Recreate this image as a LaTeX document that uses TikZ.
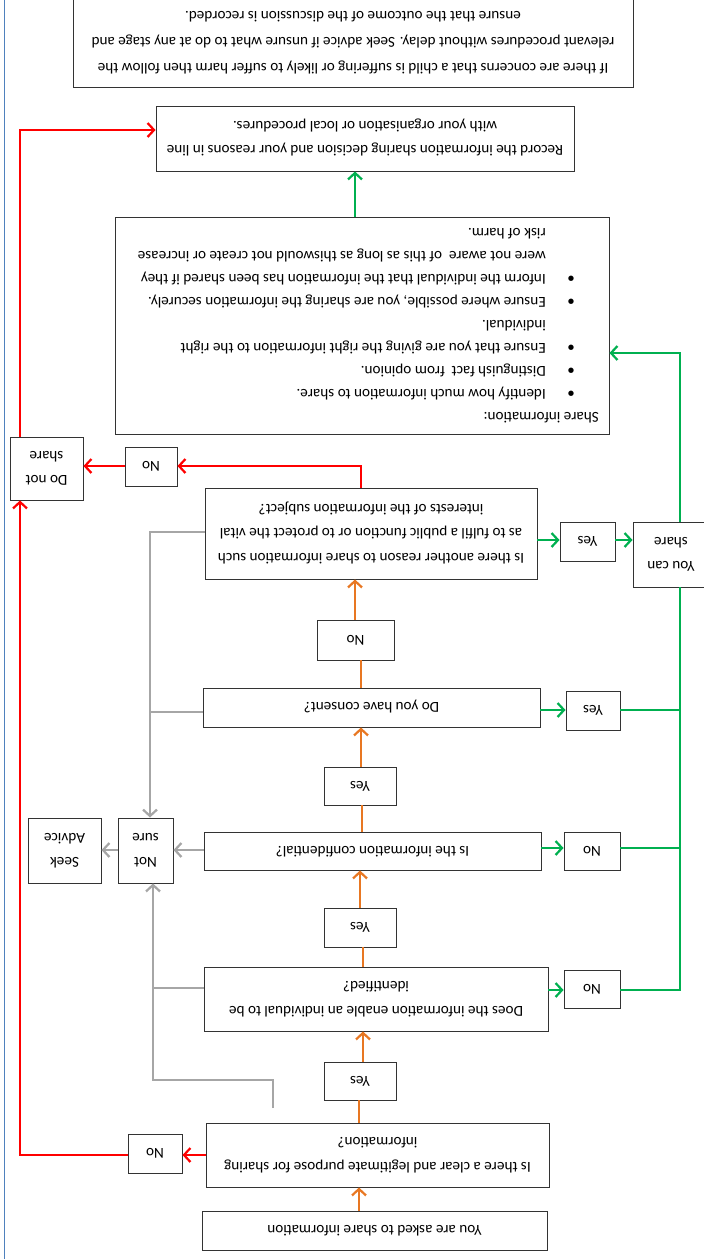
\documentclass[tikz,border=0pt]{standalone}
\usepackage{fontspec}
\setmainfont{Carlito}
\usepackage{graphicx}
\usetikzlibrary{arrows.meta}
\definecolor{cOr}{HTML}{E87722}
\definecolor{cGr}{HTML}{00B050}
\definecolor{cRd}{HTML}{FF0000}
\definecolor{cGy}{HTML}{A6A6A6}
\definecolor{cBl}{HTML}{4F81BD}
\newcommand{\flipc}[1]{\rotatebox[origin=c]{180}{\begin{tabular}{@{}c@{}}#1\end{tabular}}}
\begin{document}
\begin{tikzpicture}[x=1pt,y=-1pt,
  box/.style={draw=black!80, line width=0.9pt, fill=white, inner sep=0pt,
    font=\fontsize{15.2}{24.5}\selectfont},
  conn/.style={line width=2.2pt, line join=miter},
  tip/.style={arrows={-{Straight Barb[length=6.5pt,width=14pt]}}},
  oc/.style={conn, draw=cOr},
  gc/.style={conn, draw=cGr},
  rc/.style={conn, draw=cRd},
  kc/.style={conn, draw=cGy}]
\useasboundingbox (0,0) rectangle (704,1259);
\fill[white] (0,0) rectangle (704,1259);
\draw[cBl, line width=1.2pt] (4.5,-2) -- (4.5,1261);

% boxes
\node[box, minimum width=560pt, minimum height=89pt, font=\fontsize{15.2}{26}\selectfont] (topnote) at (353,42.5)
  {\flipc{If there are concerns that a child is suffering or likely to suffer harm then follow the\\
   relevant procedures without delay. Seek advice if unsure what to do at any stage and\\
   ensure that the outcome of the discussion is recorded.}};
\node[box, minimum width=418pt, minimum height=65pt] (record) at (365,138.5)
  {\flipc{Record the information sharing decision and your reasons in line\\
   with your organisation or local procedures.}};
\node[box, minimum width=494pt, minimum height=217pt] (share) at (362,325.5) {};
\node[anchor=south east, inner sep=0pt, font=\fontsize{15.2}{23}\selectfont] (sharetext) at (599,428.6)
  {\rotatebox[origin=c]{180}{\begin{tabular}{@{}l@{}}
   Share information:\\
   \hspace*{24pt}\makebox[29pt][l]{•}Identify how much information to share.\\
   \hspace*{24pt}\makebox[29pt][l]{•}Distinguish fact \ from opinion.\\
   \hspace*{24pt}\makebox[29pt][l]{•}Ensure that you are giving the right information to the right\\
   \hspace*{53pt}individual.\\
   \hspace*{24pt}\makebox[29pt][l]{•}Ensure where possible, you are sharing the information securely.\\
   \hspace*{24pt}\makebox[29pt][l]{•}Inform the individual that the information has been shared if they\\
   \hspace*{53pt}were not aware \ of this as long as thiswould not create or increase\\
   \hspace*{53pt}risk of harm.
   \end{tabular}}};
\node[box, minimum width=332pt, minimum height=91pt] (another) at (371,533.5)
  {\flipc{Is there another reason to share information such\\
   as to fulfil a public function or to protect the vital\\
   interests of the information subject?}};
\node[box, minimum width=55pt, minimum height=39pt] (yesA) at (587.5,541.5) {\flipc{Yes}};
\node[box, minimum width=76pt, minimum height=65pt] (cando) at (671,554.5) {\flipc{You can\\share}};
\node[box, minimum width=52pt, minimum height=39pt] (noR) at (151,466.5) {\flipc{No}};
\node[box, minimum width=73pt, minimum height=63pt] (dontshare) at (46.5,468.5) {\flipc{Do not\\share}};
\node[box, minimum width=77pt, minimum height=40pt] (noC) at (355.5,640) {\flipc{No}};
\node[box, minimum width=337pt, minimum height=39pt] (consent) at (371.5,707.5) {\flipc{Do you have consent?}};
\node[box, minimum width=54pt, minimum height=39pt] (yesB) at (593,710.5) {\flipc{Yes}};
\node[box, minimum width=72pt, minimum height=38pt] (yesC) at (360,786) {\flipc{Yes}};
\node[box, minimum width=337pt, minimum height=38pt] (conf) at (372.5,851) {\flipc{Is the information confidential?}};
\node[box, minimum width=56pt, minimum height=38pt] (noD) at (592,851) {\flipc{No}};
\node[box, minimum width=55pt, minimum height=65pt] (notsure) at (145.5,850.5) {\flipc{Not\\sure}};
\node[box, minimum width=73pt, minimum height=65pt] (seek) at (64.5,850.5) {\flipc{Seek\\Advice}};
\node[box, minimum width=72pt, minimum height=39pt] (yesD) at (360,927.5) {\flipc{Yes}};
\node[box, minimum width=344pt, minimum height=64pt] (ident) at (376,999)
  {\flipc{Does the information enable an individual to be\\identified?}};
\node[box, minimum width=56pt, minimum height=38pt] (noE) at (592,989) {\flipc{No}};
\node[box, minimum width=72pt, minimum height=38pt] (yesE) at (360,1081) {\flipc{Yes}};
\node[box, minimum width=343pt, minimum height=64pt] (purpose) at (377.5,1155)
  {\flipc{Is there a clear and legitimate purpose for sharing\\information?}};
\node[box, minimum width=54pt, minimum height=39pt] (noF) at (155,1153.5) {\flipc{No}};
\node[box, minimum width=345pt, minimum height=39pt] (asked) at (374.5,1230.5) {\flipc{You are asked to share information}};

% helper coordinates
\coordinate (o1) at (359,0);
\coordinate (o2) at (363,0);
\coordinate (o3) at (360,0);
\coordinate (o3b) at (362,0);
\coordinate (o4) at (361,0);
\coordinate (o5) at (355,0);

% orange connectors
\draw[oc,tip] (asked.north -| o1) -- (purpose.south -| o1);
\draw[oc] (purpose.north -| o1) -- (yesE.south -| o1);
\draw[oc,tip] (yesE.north -| o2) -- (ident.south -| o2);
\draw[oc] (ident.north -| o2) -- (yesD.south -| o2);
\draw[oc,tip] (yesD.north -| o3) -- (conf.south -| o3);
\draw[oc] (conf.north -| o3b) -- (yesC.south -| o3b);
\draw[oc,tip] (yesC.north -| o4) -- (consent.south -| o4);
\draw[oc] (consent.north -| o4) -- (noC.south -| o4);
\draw[oc,tip] (noC.north -| o5) -- (another.south -| o5);

% green connectors
\coordinate (gv) at (680,0);
\coordinate (g1) at (0,540);
\coordinate (g2) at (0,710);
\coordinate (g3) at (0,848);
\coordinate (g4) at (0,990);
\coordinate (g5) at (0,353);
\coordinate (g6) at (355,0);
\draw[gc,tip] (another.east |- g1) -- (yesA.west |- g1);
\draw[gc,tip] (yesA.east |- g1) -- (cando.west |- g1);
\draw[gc,tip] (consent.east |- g2) -- (yesB.west |- g2);
\draw[gc] (yesB.east |- g2) -- (gv |- g2);
\draw[gc,tip] (conf.east |- g3) -- (noD.west |- g3);
\draw[gc] (noD.east |- g3) -- (gv |- g3);
\draw[gc,tip] (ident.east |- g4) -- (noE.west |- g4);
\draw[gc] (noE.east |- g4) -- (gv |- g4) -- (cando.south -| gv);
\draw[gc,tip] (cando.north -| gv) -- (gv |- g5) -- (share.east |- g5);
\draw[gc,tip] (share.north -| g6) -- (record.south -| g6);

% red connectors
\coordinate (rx) at (361,0);
\coordinate (rl) at (20,0);
\coordinate (r1) at (0,466);
\coordinate (r2) at (0,1155);
\coordinate (r3) at (0,130);
\draw[rc,tip] (another.north -| rx) -- (rx |- r1) -- (noR.east |- r1);
\draw[rc,tip] (noR.west |- r1) -- (dontshare.east |- r1);
\draw[rc,tip] (purpose.west |- r2) -- (noF.east |- r2);
\draw[rc,tip] (noF.west |- r2) -- (rl |- r2) -- (dontshare.south -| rl);
\draw[rc,tip] (dontshare.north -| rl) -- (rl |- r3) -- (record.west |- r3);

% grey connectors
\coordinate (k1) at (150,0);
\coordinate (k2) at (153,0);
\coordinate (ky1) at (0,532);
\coordinate (ky2) at (0,712);
\coordinate (ky3) at (0,850);
\coordinate (ky4) at (0,988);
\coordinate (ky5) at (0,1080);
\coordinate (kend) at (273,1108);
\draw[kc,tip] (another.west |- ky1) -- (k1 |- ky1) -- (notsure.north -| k1);
\draw[kc] (consent.west |- ky2) -- (k1 |- ky2);
\draw[kc,tip] (conf.west |- ky3) -- (notsure.east |- ky3);
\draw[kc,tip] (notsure.west |- ky3) -- (seek.east |- ky3);
\draw[kc] (ident.west |- ky4) -- (k2 |- ky4);
\draw[kc,tip] (kend) -- (kend |- ky5) -- (k2 |- ky5) -- (notsure.south -| k2);
\end{tikzpicture}
\end{document}
